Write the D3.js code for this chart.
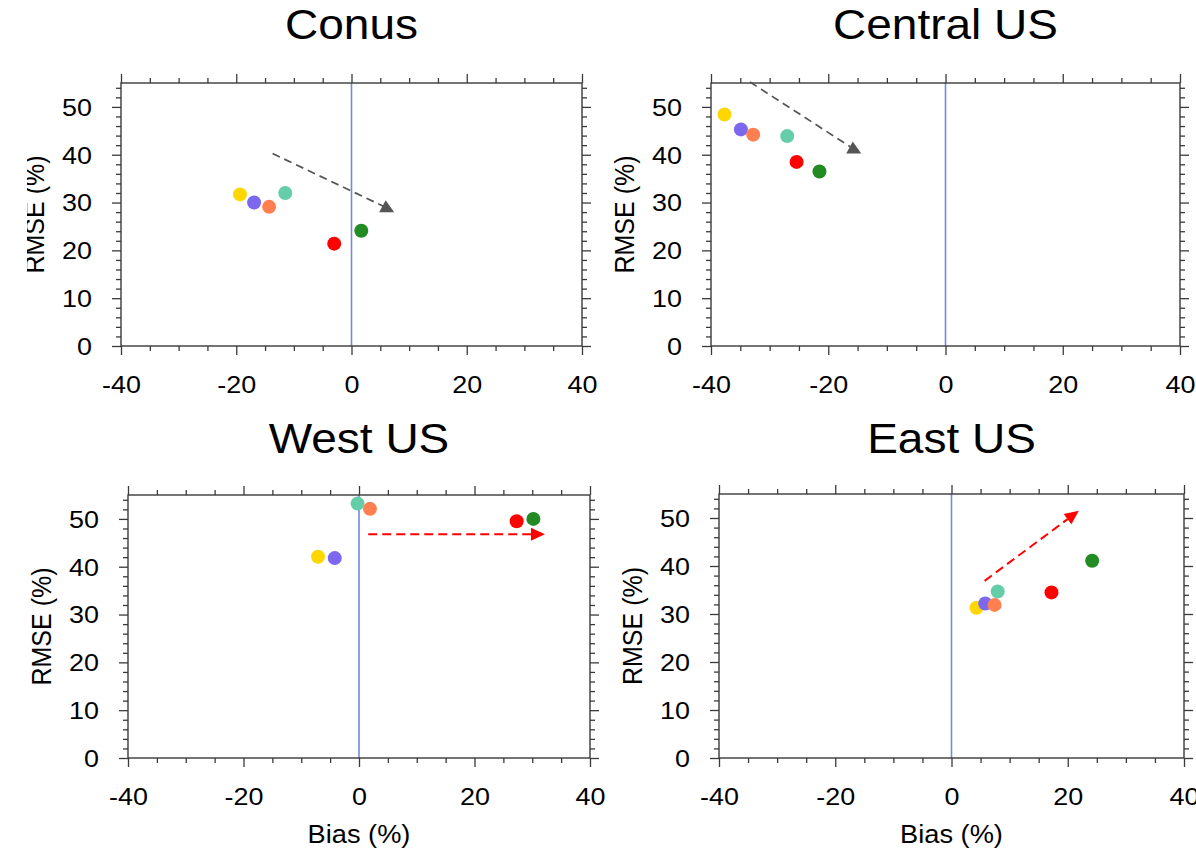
<!DOCTYPE html>
<html>
<head>
<meta charset="utf-8">
<script src="https://cdn.jsdelivr.net/npm/d3@7"></script>
<style>
  html, body { margin: 0; padding: 0; background: #fff; }
  svg { display: block; }
  text { font-family: "Liberation Sans", Arial, Helvetica, sans-serif; fill: #000; }
</style>
</head>
<body>
<svg id="chart" width="1196" height="851"></svg>
<script>
// ---------------- data ----------------
const regions = ["Conus", "Central US", "West US", "East US"];
const seriesColors = ["#ffd700", "#7b68ee", "#66cdaa", "#ff7f50", "#ff0000", "#228b22"];

// order: gold, slate blue, aquamarine, coral, red, forest green
const conusBias   = [-19.35, -16.9, -11.5, -14.3, -3.0, 1.7];
const conusRmse   = [31.7, 30.0, 32.0, 29.1, 21.4, 24.1];
const centralBias = [-37.7, -34.9, -27.0, -32.8, -25.4, -21.5];
const centralRmse = [48.4, 45.3, 43.9, 44.2, 38.5, 36.5];
const westBias    = [-7.1, -4.2, -0.25, 1.9, 27.3, 30.2];
const westRmse    = [42.1, 41.8, 53.2, 52.1, 49.5, 50.0];
const eastBias    = [4.3, 5.8, 7.95, 7.4, 17.2, 24.2];
const eastRmse    = [31.3, 32.2, 34.7, 31.9, 34.5, 41.1];

const arrowStartBias = [-13.7, -33.35, 1.6, 5.7];
const arrowStartRmse = [40.25, 55.2, 46.8, 36.9];
const arrowEndBias   = [6.1, -15.65, 32.2, 21.9];
const arrowEndRmse   = [28.9, 41.2, 46.8, 51.5];
const arrowColors    = ["#555555", "#555555", "#ff0000", "#ff0000"];
const arrowHeads     = ["triangle", "triangle", "arrow", "arrow"];

const xDomain = [-40, 40];
const yDomain = [0, 55];
const xMajorTicks = [-40, -20, 0, 20, 40];
const xMinorTicks = [-35, -30, -25, -15, -10, -5, 5, 10, 15, 25, 30, 35];
const yMajorTicks = [0, 10, 20, 30, 40, 50];
const yMinorTicks = [2,4,6,8,12,14,16,18,22,24,26,28,32,34,36,38,42,44,46,48,52,54];
const xLabel = "Bias (%)";
const yLabel = "RMSE (%)";

// ---------------- layout ----------------
const panelBias = [conusBias, centralBias, westBias, eastBias];
const panelRmse = [conusRmse, centralRmse, westRmse, eastRmse];
const layout = [
  { x0: 121, y0: 83,  x1: 582,  y1: 346, titleY: 39,  showX: false, clipY: 27 },
  { x0: 711, y0: 83,  x1: 1180, y1: 346, titleY: 39,  showX: false },
  { x0: 128, y0: 495, x1: 590,  y1: 758, titleY: 453, showX: true },
  { x0: 719, y0: 494, x1: 1184, y1: 758, titleY: 453, showX: true }
];

const svg = d3.select("#chart");
svg.append("rect").attr("width", 1196).attr("height", 851).attr("fill", "#fff");

const TICK_SX = 1.17;
const frameColor = "#3a3a3a";
const fmt = d => String(d);

layout.forEach((L, p) => {
  const x = d3.scaleLinear().domain(xDomain).range([L.x0, L.x1]);
  const y = d3.scaleLinear().domain(yDomain).range([L.y1, L.y0]);
  const g = svg.append("g");

  // title
  g.append("text")
    .attr("transform", `translate(${(L.x0 + L.x1) / 2},${L.titleY}) scale(1.07,1)`)
    .attr("text-anchor", "middle")
    .attr("font-size", 43)
    .text(regions[p]);

  // zero line
  g.append("line")
    .attr("x1", x(0)).attr("x2", x(0))
    .attr("y1", y(yDomain[1])).attr("y2", y(yDomain[0]))
    .attr("stroke", "#6f8ddb").attr("stroke-width", 1.6);

  const styleAxis = sel => {
    sel.select(".domain").remove();
    sel.selectAll(".tick line").attr("stroke", frameColor).attr("stroke-width", 1.3);
  };

  // bottom axis (major with labels)
  const bottom = g.append("g").attr("transform", `translate(0,${L.y1})`)
    .call(d3.axisBottom(x).tickValues(xMajorTicks).tickSize(9).tickPadding(21.7).tickFormat(fmt))
    .call(styleAxis);
  bottom.selectAll("text")
    .attr("font-size", 23)
    .attr("fill", "#000")
    .attr("font-family", "Liberation Sans, Arial, sans-serif")
    .attr("transform", `scale(${TICK_SX},1)`);
  g.append("g").attr("transform", `translate(0,${L.y1})`)
    .call(d3.axisBottom(x).tickValues(xMinorTicks).tickSize(5).tickFormat(""))
    .call(styleAxis);

  // top axis
  g.append("g").attr("transform", `translate(0,${L.y0})`)
    .call(d3.axisTop(x).tickValues(xMajorTicks).tickSize(9).tickFormat(""))
    .call(styleAxis);
  g.append("g").attr("transform", `translate(0,${L.y0})`)
    .call(d3.axisTop(x).tickValues(xMinorTicks).tickSize(5).tickFormat(""))
    .call(styleAxis);

  // left axis
  const left = g.append("g").attr("transform", `translate(${L.x0},0)`)
    .call(d3.axisLeft(y).tickValues(yMajorTicks).tickSize(9).tickFormat(fmt))
    .call(styleAxis);
  left.selectAll("text")
    .attr("font-size", 23)
    .attr("fill", "#000")
    .attr("font-family", "Liberation Sans, Arial, sans-serif")
    .attr("x", -29 / TICK_SX)
    .attr("dy", "0.36em")
    .attr("transform", `scale(${TICK_SX},1)`);
  g.append("g").attr("transform", `translate(${L.x0},0)`)
    .call(d3.axisLeft(y).tickValues(yMinorTicks).tickSize(5).tickFormat(""))
    .call(styleAxis);

  // right axis
  g.append("g").attr("transform", `translate(${L.x1},0)`)
    .call(d3.axisRight(y).tickValues(yMajorTicks).tickSize(9).tickFormat(""))
    .call(styleAxis);
  g.append("g").attr("transform", `translate(${L.x1},0)`)
    .call(d3.axisRight(y).tickValues(yMinorTicks).tickSize(5).tickFormat(""))
    .call(styleAxis);

  // frame
  g.append("rect")
    .attr("x", L.x0).attr("y", L.y0)
    .attr("width", L.x1 - L.x0).attr("height", L.y1 - L.y0)
    .attr("fill", "none").attr("stroke", frameColor).attr("stroke-width", 1.4);

  // y label
  let yl = g.append("text")
    .attr("transform", `translate(${L.x0 - 87},${(L.y0 + L.y1) / 2}) rotate(-90) scale(1,1.1)`)
    .attr("text-anchor", "middle")
    .attr("dy", "0.36em")
    .attr("font-size", 25)
    .text(yLabel);
  if (L.clipY !== undefined) {
    const cid = "clipY" + p;
    svg.append("defs").append("clipPath").attr("id", cid)
      .append("rect").attr("x", L.clipY).attr("y", 0).attr("width", 200).attr("height", 851);
    const wrap = g.append("g").attr("clip-path", `url(#${cid})`);
    wrap.node().appendChild(yl.node());
  }

  // x label
  if (L.showX) {
    g.append("text")
      .attr("transform", `translate(${(L.x0 + L.x1) / 2},${L.y1 + 85}) scale(1.09,1)`)
      .attr("text-anchor", "middle")
      .attr("font-size", 25)
      .text(xLabel);
  }

  // arrow
  const ax0 = x(arrowStartBias[p]), ay0 = y(arrowStartRmse[p]);
  const ax1 = x(arrowEndBias[p]), ay1 = y(arrowEndRmse[p]);
  const col = arrowColors[p];
  if (arrowHeads[p] === "triangle") {
    g.append("line")
      .attr("x1", ax0).attr("y1", ay0).attr("x2", ax1).attr("y2", ay1)
      .attr("stroke", col).attr("stroke-width", 1.7).attr("stroke-dasharray", "8,5");
    const w = 15, h = 12;
    g.append("path")
      .attr("d", `M${ax1 - 1},${ay1 - h * 0.62} L${ax1 + w / 2},${ay1 + h * 0.38} L${ax1 - w / 2},${ay1 + h * 0.38} Z`)
      .attr("fill", col);
  } else {
    const len = Math.hypot(ax1 - ax0, ay1 - ay0);
    const ux = (ax1 - ax0) / len, uy = (ay1 - ay0) / len;
    const hl = 14, hw = 6.5;
    const bx = ax1 - ux * hl, by = ay1 - uy * hl;
    g.append("line")
      .attr("x1", ax0).attr("y1", ay0).attr("x2", bx).attr("y2", by)
      .attr("stroke", col).attr("stroke-width", 2).attr("stroke-dasharray", "9,5");
    g.append("path")
      .attr("d", `M${ax1},${ay1} L${bx - uy * hw},${by + ux * hw} L${bx + uy * hw},${by - ux * hw} Z`)
      .attr("fill", col);
  }

  // points
  const pts = panelBias[p].map((b, i) => ({ b, r: panelRmse[p][i], c: seriesColors[i] }));
  g.append("g").selectAll("circle").data(pts).join("circle")
    .attr("cx", d => x(d.b))
    .attr("cy", d => y(d.r))
    .attr("r", 7)
    .attr("fill", d => d.c);
});
</script>
</body>
</html>
